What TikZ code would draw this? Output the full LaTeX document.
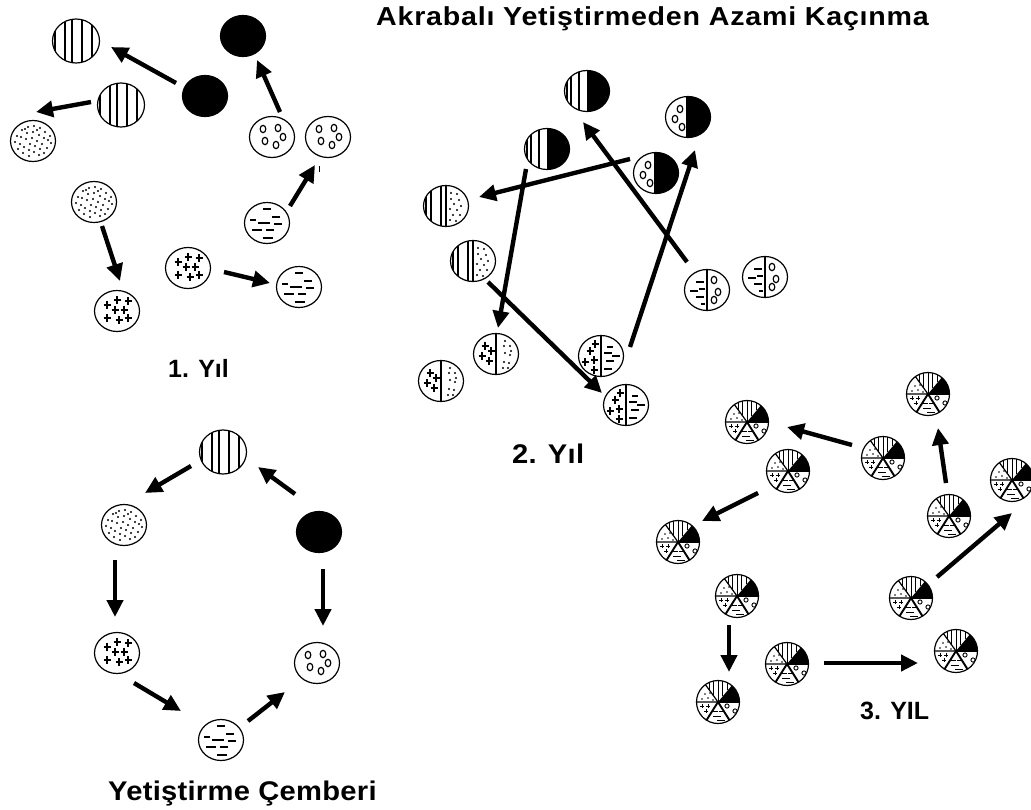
\documentclass[tikz,border=0pt]{standalone}
\usepackage{fontspec}
\setmainfont{Liberation Sans}
\newfontfamily\headfont[FakeStretch=1.1,LetterSpace=3]{Liberation Sans}
\newfontfamily\capfont[FakeStretch=1.08,LetterSpace=1]{Liberation Sans}
\usetikzlibrary{arrows.meta,shapes.geometric}
% small marks, all given around the centre of a cell
\newcommand{\barset}[1]{\foreach \x in {#1} \draw[line width=1.3pt] (\x,-30) -- (\x,30);}
\newcommand{\ringset}[1]{\foreach \x/\y in {#1} \draw[line width=1.2pt] (\x,\y) ellipse (2.8 and 3.7);}
\newcommand{\plusset}[1]{\foreach \x/\y in {#1} \draw[line width=1.4pt] (\x-3.5,\y) -- (\x+3.5,\y) (\x,\y-4) -- (\x,\y+4);}
\newcommand{\speckset}[1]{\foreach \x/\y in {#1} \fill (\x,\y) circle (1.1);}
\newcommand{\dashset}[1]{\foreach \x/\y/\w in {#1} \draw[line width=1.2pt] (\x-\w,\y) -- (\x+\w,\y);}
\newcommand{\midline}{\draw[line width=1.5pt] (0,-30) -- (0,30);}
\newcommand{\fullspeck}{\speckset{-16/-5,-11/-11,-5/-14,1/-15,7/-13,12/-9,17/-5,-18/1,-12/-4,-6/-8,0/-9,6/-6,11/-3,18/2,-13/3,-7/-2,-1/-3,4/0,9/3,14/7,-15/8,-9/6,-3/3,2/5,7/8,-10/12,-4/9,1/11,6/14,11/12,-4/15,15/-1,-8/-12,4/-11}}
\newcommand{\incell}[1]{\begin{scope}[shift={(path picture bounding box.center)}]#1\end{scope}}
\tikzset{
  cell/.style={ellipse,draw,line width=1.2pt,inner sep=0pt,minimum width=45pt,minimum height=41pt},
  barred/.style={cell,minimum width=47pt,minimum height=44pt,path picture={\incell{\barset{-21,-11,-4,6,16}}}},
  speckled/.style={cell,path picture={\incell{\fullspeck}}},
  inked/.style={cell,fill=black},
  ringed/.style={cell,path picture={\incell{\ringset{-9/-8,6/-9,11/0,-7/4,4/8}}}},
  crossed/.style={cell,path picture={\incell{\plusset{-10/-6,0/-11,11/-10,-2/-1,7/-1,-10/7,2/9,11/7}}}},
  dashy/.style={cell,path picture={\incell{\dashset{0/-14/4,9/-6/4,-14/-3/3,-3/0/6,11/1/4,-10/7/5,3/7/4,1/15/5}}}},
  barink/.style={cell,path picture={\incell{\fill (1,-30) rectangle (30,30); \barset{-20,-16,-8,1}}}},
  ringink/.style={cell,path picture={\incell{\fill (-2,-30) rectangle (30,30); \ringset{-8/-8,-13/2,-6/10}}}},
  barspeck/.style={cell,path picture={\incell{\barset{-20,-15,-5,0} \speckset{5/-13,11/-12,5/-7,13/-6,8/-2,15/0,4/3,11/4,7/9,14/9,4/14,10/15}}}},
  dashring/.style={cell,path picture={\incell{\midline \dashset{-7/-8/4,-13/1/4,-5/-1/3,-7/7/4,-4/14/2} \ringset{7/-10,11/2,7/10}}}},
  crossspeck/.style={cell,path picture={\incell{\midline \plusset{-11/-8,-5/-3,-14/2,-7/7} \speckset{8/-8,14/-8,9/-1,14/1,8/8,13/9,9/-13,15/-3,7/14,12/14}}}},
  crossdash/.style={cell,path picture={\incell{\midline \plusset{-11/-5,-6/-12,-16/6,-7/4,-7/14} \dashset{9/-9/3,7/-3/4,15/0/4,9/5/4,7/13/4}}}},
  pie/.style={cell,minimum width=43pt,minimum height=43pt,path picture={\incell{
    \fill (0,0) -- (30,0) -- (30,-30) -- (25,-30) -- cycle;
    \draw[line width=1.2pt] (0,0) -- (-30,0) (0,0) -- (-21,-29);
    \draw[line width=1.9pt] (0,0) -- (-19,30) (0,0) -- (19,30) (0,0) -- (30,0);
    \foreach \x in {-9,-4.5,0,4.5,9} \draw[line width=0.8pt] (\x,-30) -- (\x,{-1.3*abs(\x)});
    \foreach \x/\y in {-13/-8,-10/-4,-16/-3,-5/-2,-8/-9} \fill (\x,\y) circle (0.8);
    \foreach \x/\y in {-16/4,-10/4,-12/9} \draw[line width=0.9pt] (\x-2,\y) -- (\x+2,\y) (\x,\y-2) -- (\x,\y+2);
    \foreach \x/\y in {9/4,17/9} \draw[line width=0.9pt] (\x,\y) circle (2.1);
    \foreach \x/\y/\w in {-3/9/3,3/9/2,-1/14/4,3/18/4} \draw[line width=0.9pt] (\x-\w,\y) -- (\x+\w,\y);
  }}},
  link/.style={line width=4.4pt,-{Triangle[length=17pt,width=16pt]}},
  heading/.style={anchor=base west,inner sep=0pt,font=\headfont\bfseries\fontsize{26}{30}\selectfont},
  yearname/.style={anchor=base west,inner sep=0pt,font=\bfseries\fontsize{25}{29}\selectfont},
  bigname/.style={anchor=base west,inner sep=0pt,font=\capfont\bfseries\fontsize{27}{31}\selectfont}
}
\begin{document}
\begin{tikzpicture}[x=1pt,y=-1pt]
  \useasboundingbox (0,0) rectangle (1031,809);
  % first year
  \node[barred] (stripeA) at (76,41) {};
  \node[inked] (inkB) at (205,96) {};
  \node[inked] (inkT) at (243,36) {};
  \node[barred] (stripeC) at (121,105) {};
  \node[speckled] (speckD) at (33,141) {};
  \node[ringed] (ringE) at (272,137) {};
  \node[ringed] (ringF) at (328,137) {};
  \node[speckled] (speckG) at (94,202) {};
  \node[dashy] (dashH) at (267,223) {};
  \node[crossed] (plusI) at (188,268) {};
  \node[dashy] (dashJ) at (299,287) {};
  \node[crossed] (plusK) at (117,311) {};
  \draw[link] ([shift={(-29,-13)}]inkB.center) -- ([shift={(35,6)}]stripeA.center);
  \draw[link] ([shift={(-30,-3)}]stripeC.center) -- ([shift={(3,-29)}]speckD.center);
  \draw[link] ([shift={(8,-25)}]ringE.center) -- ([shift={(14,24)}]inkT.center);
  \draw[link] ([shift={(23,-17)}]dashH.center) -- ([shift={(-13,28)}]ringF.center);
  \draw[link] ([shift={(8,24)}]speckG.center) -- ([shift={(3,-30)}]plusK.center);
  \draw[link] ([shift={(36,4)}]plusI.center) -- ([shift={(-29,-4)}]dashJ.center);
  \node[inner sep=0pt] (tick) at (319,169) {};
  \draw[line width=0.7pt] ([yshift=-3pt]tick.center) -- ([yshift=3pt]tick.center);
  \node[yearname] (yearA) at (168,377) {1. Yıl};
  % second year
  \node[barink] (halfA) at (587,91) {};
  \node[ringink] (halfB) at (688,117) {};
  \node[barink] (halfC) at (547,149) {};
  \node[ringink] (halfD) at (656,173) {};
  \node[barspeck] (halfE) at (446,206) {};
  \node[barspeck] (halfF) at (473,261) {};
  \node[dashring] (halfG) at (707,290) {};
  \node[dashring] (halfH) at (765,277) {};
  \node[crossspeck] (halfI) at (496,354) {};
  \node[crossspeck] (halfJ) at (441,381) {};
  \node[crossdash] (halfK) at (601,356) {};
  \node[crossdash] (halfL) at (626,405) {};
  \draw[link] ([shift={(-26,-14)}]halfD.center) -- ([shift={(33,-9)}]halfE.center);
  \draw[link] ([shift={(-20,-28)}]halfG.center) -- ([shift={(-4,31)}]halfA.center);
  \draw[link] ([shift={(-21,20)}]halfC.center) -- ([shift={(2,-26)}]halfI.center);
  \draw[link] ([shift={(15,21)}]halfF.center) -- ([shift={(-24,-12)}]halfL.center);
  \draw[link] ([shift={(29,-9)}]halfK.center) -- ([shift={(7,33)}]halfB.center);
  \node[bigname] (yearB) at (512,463) {2. Yıl};
  % third year
  \node[pie] (pieA) at (747,422) {};
  \node[pie] (pieB) at (928,394) {};
  \node[pie] (pieC) at (788,471) {};
  \node[pie] (pieD) at (883,458) {};
  \node[pie] (pieE) at (678,542) {};
  \node[pie] (pieF) at (949,516) {};
  \node[pie] (pieG) at (1012,480) {};
  \node[pie] (pieH) at (737,596) {};
  \node[pie] (pieI) at (911,598) {};
  \node[pie] (pieJ) at (787,664) {};
  \node[pie] (pieK) at (956,651) {};
  \node[pie] (pieL) at (718,702) {};
  \draw[link] ([shift={(-31,-13)}]pieD.center) -- ([shift={(40,5)}]pieA.center);
  \draw[link] ([shift={(-30,22)}]pieC.center) -- ([shift={(24,-21)}]pieE.center);
  \draw[link] ([shift={(-3,-33)}]pieF.center) -- ([shift={(10,34)}]pieB.center);
  \draw[link] ([shift={(26,-21)}]pieI.center) -- ([shift={(0,33)}]pieG.center);
  \draw[link] ([shift={(-8,29)}]pieH.center) -- ([shift={(11,-30)}]pieL.center);
  \draw[link] ([shift={(37,-1)}]pieJ.center) -- ([shift={(-38,12)}]pieK.center);
  \node[yearname] (yearC) at (860,719) {3. YIL};
  % the ring
  \node[barred] (ringS) at (223,452) {};
  \node[inked] (ringK) at (319,532) {};
  \node[speckled] (ringD) at (124,525) {};
  \node[crossed] (ringP) at (117,653) {};
  \node[ringed] (ringO) at (317,663) {};
  \node[dashy] (ringM) at (221,740) {};
  \draw[link] ([shift={(-24,-38)}]ringK.center) -- ([shift={(35,15)}]ringS.center);
  \draw[link] ([shift={(-32,14)}]ringS.center) -- ([shift={(21,-32)}]ringD.center);
  \draw[link] ([shift={(-9,35)}]ringD.center) -- ([shift={(-2,-36)}]ringP.center);
  \draw[link] ([shift={(4,37)}]ringK.center) -- ([shift={(6,-37)}]ringO.center);
  \draw[link] ([shift={(17,30)}]ringP.center) -- ([shift={(-40,-29)}]ringM.center);
  \draw[link] ([shift={(27,-19)}]ringM.center) -- ([shift={(-32,29)}]ringO.center);
  \node[bigname] (ringname) at (108,800) {Yetiştirme Çemberi};
  \node[heading] (title) at (376,25) {Akrabalı Yetiştirmeden Azami Kaçınma};
\end{tikzpicture}
\end{document}
